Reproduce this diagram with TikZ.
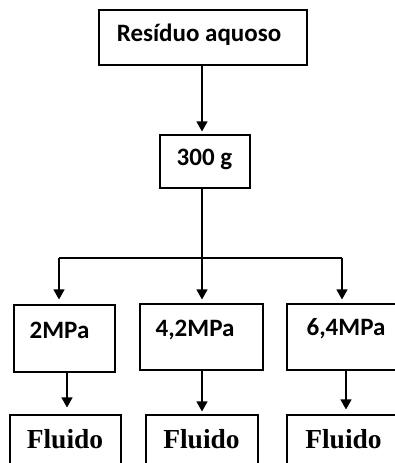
\documentclass[tikz,border=0pt]{standalone}
\usepackage{fontspec}
\setmainfont{Carlito}
\newfontfamily\serifbold{Liberation Serif}
\usetikzlibrary{arrows.meta}
\begin{document}
\begin{tikzpicture}[x=1pt,y=-1pt,
  box/.style={draw,line width=1.1pt,rectangle,inner sep=0pt},
  lbl/.style={anchor=base,inner sep=0pt,font=\fontsize{25}{30}\selectfont\bfseries},
  flbl/.style={anchor=base,inner sep=0pt,font=\fontsize{27.5}{32}\selectfont\serifbold\bfseries},
  arr/.style={line width=1.1pt,-{Triangle[width=11pt,length=10pt]}},
  ln/.style={line width=1.1pt}]
\clip (0,0) rectangle (395,463);
\fill[white] (0,0) rectangle (395,463);
% boxes
\node[box,minimum width=208pt,minimum height=55pt] (top) at (203,37.5) {};
\node[box,minimum width=90pt,minimum height=53pt] (mid) at (205,161.5) {};
\node[box,minimum width=101pt,minimum height=67pt] (b1) at (64.5,338.5) {};
\node[box,minimum width=123pt,minimum height=66pt] (b2) at (201.5,337) {};
\node[box,minimum width=118pt,minimum height=66pt] (b3) at (346,337) {};
\node[box,minimum width=111pt,minimum height=65pt] (f1) at (65.5,447.5) {};
\node[box,minimum width=112pt,minimum height=65pt] (f2) at (202,447.5) {};
\node[box,minimum width=118pt,minimum height=65pt] (f3) at (346,447.5) {};
% texts
\node[lbl] (ttop) at (199,41) {Resíduo aquoso};
\node[lbl] (tmid) at (204.5,165) {300 g};
\node[lbl] (tb1) at (59.5,338) {2MPa};
\node[lbl] (tb2) at (195,336) {4,2MPa};
\node[lbl] (tb3) at (346,335) {6,4MPa};
\node[flbl] (tf1) at (65,448) {Fluido};
\node[flbl] (tf2) at (201.5,448) {Fluido};
\node[flbl] (tf3) at (343.5,448) {Fluido};
% connectors
\coordinate (j) at (202,258);
\coordinate (jl) at (59,258);
\coordinate (jr) at (342,258);
\draw[arr,shorten >=3pt] (top.south -| j) -- (mid.north -| j);
\draw[arr,shorten >=4pt] (mid.south -| j) -- (b2.north -| j);
\draw[ln] (jl) -- (jr);
\draw[arr,shorten >=5pt] (jl) -- (jl |- b1.north);
\draw[arr,shorten >=4pt] (jr) -- (jr |- b3.north);
\draw[arr,shorten >=7pt] ([xshift=1.5pt]b1.south -| f1.north) -- ([xshift=1.5pt]f1.north);
\draw[arr,shorten >=3pt] (b2.south -| f2.north) -- (f2.north);
\draw[arr,shorten >=5pt] (b3.south -| f3.north) -- (f3.north);
\end{tikzpicture}
\end{document}
